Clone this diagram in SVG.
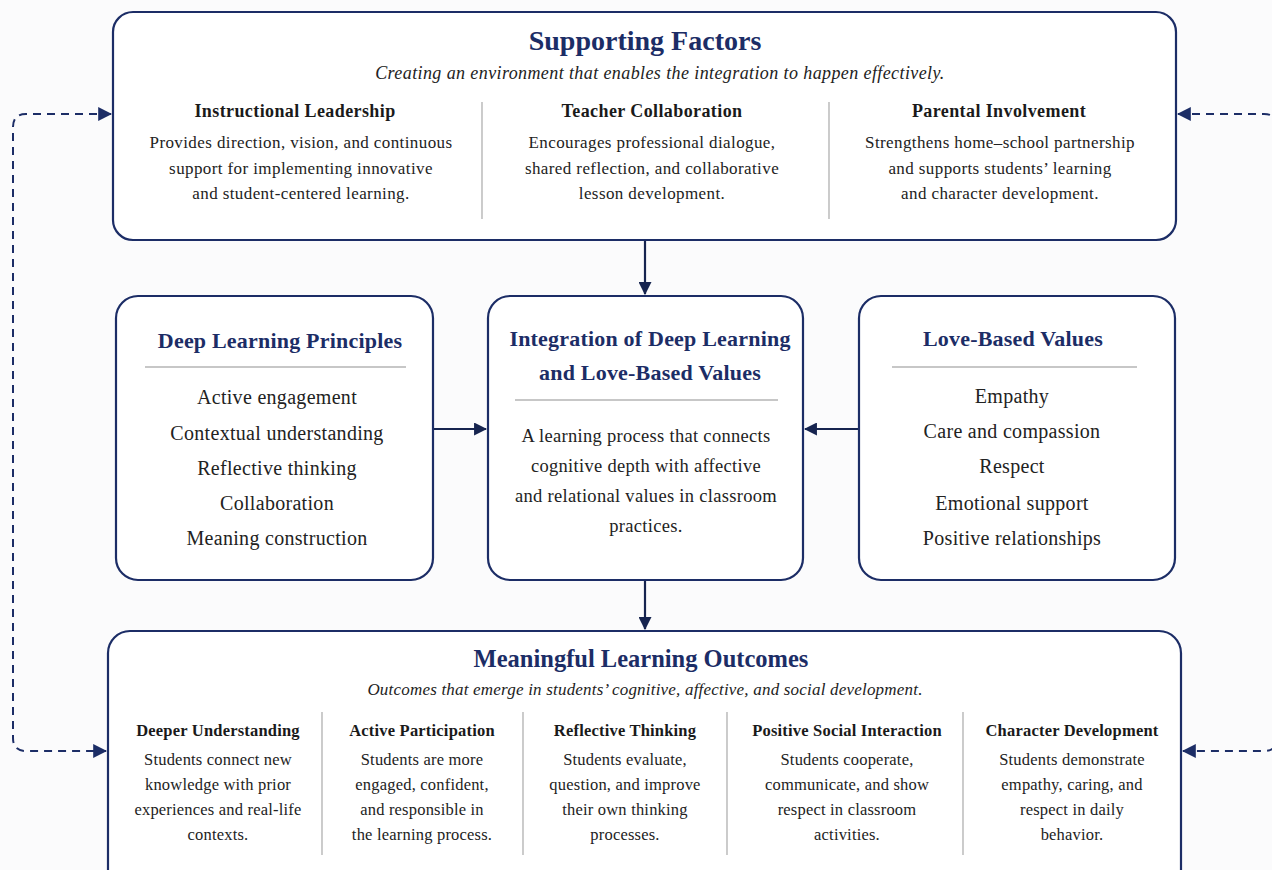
<svg xmlns="http://www.w3.org/2000/svg" width="1272" height="870" viewBox="0 0 1272 870">
<style>
text{font-family:"Liberation Serif","Times New Roman",serif;text-anchor:middle;fill:#222}
.box{fill:#fff;stroke:#1c2d66;stroke-width:2.2}
.title{font-weight:bold;fill:#1c2d66}
.sub{font-style:italic}
.hd{font-weight:bold;fill:#1a1a1a}
.div{stroke:#b0b0b0;stroke-width:1.3}
.sep{stroke:#b5b5b5;stroke-width:1.6}
.solid{fill:none;stroke:#16244f;stroke-width:2.2}
.dash{fill:none;stroke:#1c2d66;stroke-width:2;stroke-dasharray:8 6}
.tb{font-size:17px;letter-spacing:0.4px}
.mi{font-size:20px;letter-spacing:0.3px}
.cb{font-size:18.5px;letter-spacing:0.3px}
.bh{font-size:16.5px;letter-spacing:0.2px}
.bb{font-size:16.5px;letter-spacing:0.2px}
</style>
<defs>
<marker id="ah" viewBox="0 0 12 12" refX="11" refY="6" markerWidth="13" markerHeight="13" markerUnits="userSpaceOnUse" orient="auto-start-reverse">
<path d="M0,0 L12,6 L0,12 z" fill="#16244f"/>
</marker>
<marker id="ahd" viewBox="0 0 12 12" refX="11" refY="6" markerWidth="14" markerHeight="14" markerUnits="userSpaceOnUse" orient="auto-start-reverse">
<path d="M0,0 L12,6 L0,12 z" fill="#1c2d66"/>
</marker>
</defs>
<rect width="1272" height="870" fill="#fbfbfc"/>

<g id="connectors">
<path class="solid" d="M645 241 V294" marker-end="url(#ah)"/>
<path class="solid" d="M433 429 H486" marker-end="url(#ah)"/>
<path class="solid" d="M859 429 H805" marker-end="url(#ah)"/>
<path class="solid" d="M645 581 V629" marker-end="url(#ah)"/>
<path class="dash" d="M111 114 H26 Q13 114 13 127 V738 Q13 751 26 751 H106" marker-start="url(#ahd)" marker-end="url(#ahd)"/>
<path class="dash" d="M1178 114 H1264 Q1277 114 1277 127 V738 Q1277 751 1264 751 H1183" marker-start="url(#ahd)" marker-end="url(#ahd)"/>
</g>

<g id="supporting-factors">
<rect class="box" x="113" y="12" width="1063" height="228" rx="20"/>
<text class="title" x="645" y="50" font-size="28">Supporting Factors</text>
<text class="sub" x="660" y="79" font-size="18" letter-spacing="0.4">Creating an environment that enables the integration to happen effectively.</text>
<line class="div" x1="482" y1="102" x2="482" y2="219"/>
<line class="div" x1="829" y1="102" x2="829" y2="219"/>
<text class="hd" x="295" y="117" font-size="18" letter-spacing="0.4">Instructional Leadership</text>
<text class="tb" x="301" y="148">Provides direction, vision, and continuous</text>
<text class="tb" x="301" y="174">support for implementing innovative</text>
<text class="tb" x="301" y="199">and student-centered learning.</text>
<text class="hd" x="652" y="117" font-size="18" letter-spacing="0.4">Teacher Collaboration</text>
<text class="tb" x="652" y="148">Encourages professional dialogue,</text>
<text class="tb" x="652" y="174">shared reflection, and collaborative</text>
<text class="tb" x="652" y="199">lesson development.</text>
<text class="hd" x="999" y="117" font-size="18" letter-spacing="0.4">Parental Involvement</text>
<text class="tb" x="1000" y="148">Strengthens home–school partnership</text>
<text class="tb" x="1000" y="174">and supports students’ learning</text>
<text class="tb" x="1000" y="199">and character development.</text>
</g>

<g id="deep-learning-principles">
<rect class="box" x="116" y="296" width="317" height="284" rx="22"/>
<text class="title" x="280" y="348" font-size="22" letter-spacing="0.2">Deep Learning Principles</text>
<line class="sep" x1="145" y1="367" x2="406" y2="367"/>
<text class="mi" x="277" y="404">Active engagement</text>
<text class="mi" x="277" y="440">Contextual understanding</text>
<text class="mi" x="277" y="475">Reflective thinking</text>
<text class="mi" x="277" y="510">Collaboration</text>
<text class="mi" x="277" y="545">Meaning construction</text>
</g>

<g id="integration">
<rect class="box" x="488" y="296" width="315" height="284" rx="22"/>
<text class="title" x="650" y="346" font-size="22" letter-spacing="0.2">Integration of Deep Learning</text>
<text class="title" x="650" y="380" font-size="22" letter-spacing="0.2">and Love-Based Values</text>
<line class="sep" x1="515" y1="400" x2="778" y2="400"/>
<text class="cb" x="646" y="442">A learning process that connects</text>
<text class="cb" x="646" y="472">cognitive depth with affective</text>
<text class="cb" x="646" y="502">and relational values in classroom</text>
<text class="cb" x="646" y="532">practices.</text>
</g>

<g id="love-based-values">
<rect class="box" x="859" y="296" width="316" height="284" rx="22"/>
<text class="title" x="1013" y="346" font-size="22" letter-spacing="0.2">Love-Based Values</text>
<line class="sep" x1="892" y1="367" x2="1137" y2="367"/>
<text class="mi" x="1012" y="403">Empathy</text>
<text class="mi" x="1012" y="438">Care and compassion</text>
<text class="mi" x="1012" y="473">Respect</text>
<text class="mi" x="1012" y="510">Emotional support</text>
<text class="mi" x="1012" y="545">Positive relationships</text>
</g>

<g id="meaningful-learning-outcomes">
<rect class="box" x="108" y="631" width="1073" height="270" rx="22"/>
<text class="title" x="641" y="667" font-size="24.5">Meaningful Learning Outcomes</text>
<text class="sub" x="645" y="695" font-size="17" letter-spacing="0.2">Outcomes that emerge in students’ cognitive, affective, and social development.</text>
<line class="div" x1="322" y1="712" x2="322" y2="855"/>
<line class="div" x1="523" y1="712" x2="523" y2="855"/>
<line class="div" x1="727" y1="712" x2="727" y2="855"/>
<line class="div" x1="963" y1="712" x2="963" y2="855"/>
<text class="hd bh" x="218" y="736">Deeper Understanding</text>
<text class="bb" x="218" y="765">Students connect new</text>
<text class="bb" x="218" y="790">knowledge with prior</text>
<text class="bb" x="218" y="815">experiences and real-life</text>
<text class="bb" x="218" y="840">contexts.</text>
<text class="hd bh" x="422" y="736">Active Participation</text>
<text class="bb" x="422" y="765">Students are more</text>
<text class="bb" x="422" y="790">engaged, confident,</text>
<text class="bb" x="422" y="815">and responsible in</text>
<text class="bb" x="422" y="840">the learning process.</text>
<text class="hd bh" x="625" y="736">Reflective Thinking</text>
<text class="bb" x="625" y="765">Students evaluate,</text>
<text class="bb" x="625" y="790">question, and improve</text>
<text class="bb" x="625" y="815">their own thinking</text>
<text class="bb" x="625" y="840">processes.</text>
<text class="hd bh" x="847" y="736">Positive Social Interaction</text>
<text class="bb" x="847" y="765">Students cooperate,</text>
<text class="bb" x="847" y="790">communicate, and show</text>
<text class="bb" x="847" y="815">respect in classroom</text>
<text class="bb" x="847" y="840">activities.</text>
<text class="hd bh" x="1072" y="736">Character Development</text>
<text class="bb" x="1072" y="765">Students demonstrate</text>
<text class="bb" x="1072" y="790">empathy, caring, and</text>
<text class="bb" x="1072" y="815">respect in daily</text>
<text class="bb" x="1072" y="840">behavior.</text>
</g>
</svg>
